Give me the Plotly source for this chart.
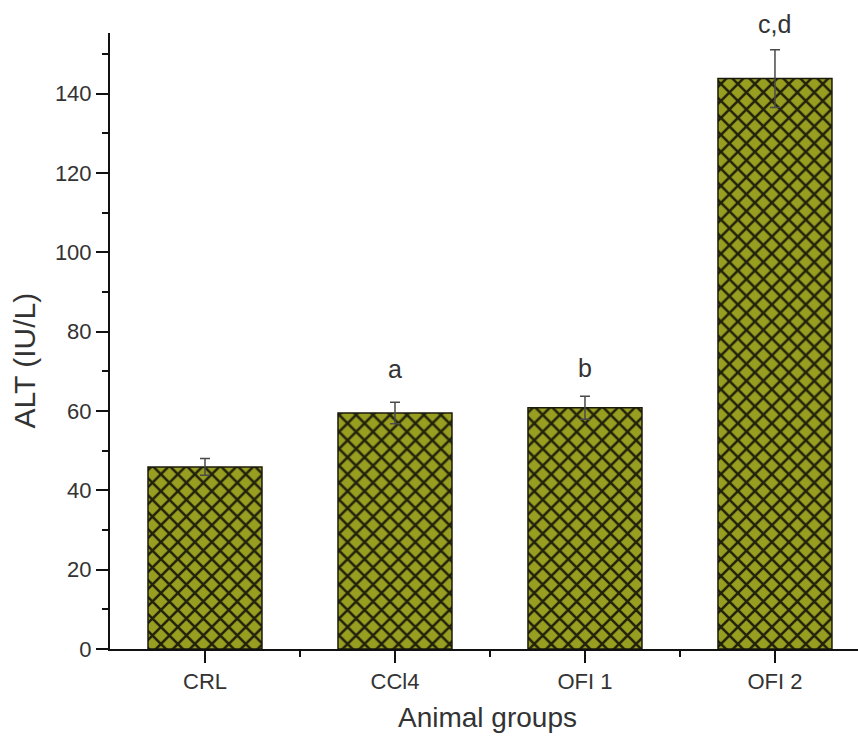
import plotly.graph_objects as go

# ALT activity by animal group
groups = ["CRL", "CCl4", "OFI 1", "OFI 2"]
alt_mean = [45.9, 59.5, 60.8, 143.8]
alt_err = [2.1, 2.7, 2.9, 7.3]
sig_labels = ["", "a", "b", "c,d"]
label_shift = [0, 22, 17, 15]

y_ticks = [0, 20, 40, 60, 80, 100, 120, 140]

xpos = list(range(len(groups)))

FONT = "Liberation Sans, Arial, sans-serif"

fig = go.Figure()
fig.add_trace(go.Bar(
    x=xpos,
    y=alt_mean,
    width=0.6,
    marker=dict(
        color="#989e20",
        line=dict(color="#1a1a0a", width=1.5),
        pattern=dict(shape="x", size=12, solidity=0.38,
                     fgcolor="#22220b", bgcolor="#989e20", fillmode="replace"),
    ),
    error_y=dict(type="data", array=alt_err, visible=True,
                 color="#4a4a4a", thickness=1.5, width=5),
    showlegend=False,
))

for x, m, e, lab, sh in zip(xpos, alt_mean, alt_err, sig_labels, label_shift):
    if lab:
        fig.add_annotation(x=x, y=m + e, text=lab, showarrow=False,
                           yanchor="bottom", yshift=sh - 5,
                           font=dict(size=25, color="#333333", family=FONT))

# axis titles
fig.add_annotation(xref="paper", yref="paper", x=0.505, y=-0.112,
                   text="Animal groups", showarrow=False,
                   xanchor="center", yanchor="middle",
                   font=dict(size=28, color="#333333", family=FONT))
fig.add_annotation(xref="paper", yref="paper", x=-0.114, y=0.468,
                   text="ALT (IU/L)", showarrow=False, textangle=-90,
                   xanchor="center", yanchor="middle",
                   font=dict(size=30, color="#333333", family=FONT))

fig.update_layout(
    width=858, height=737,
    margin=dict(l=110, r=0, t=33, b=88),
    plot_bgcolor="white", paper_bgcolor="white",
    font=dict(family=FONT, color="#333333", size=22),
    xaxis=dict(
        range=[-0.5, 3.437],
        tickmode="array", tickvals=xpos, ticktext=groups,
        showline=True, linecolor="#111111", linewidth=2,
        ticks="outside", ticklen=12, tickwidth=2, tickcolor="#111111",
        minor=dict(tickmode="array", tickvals=[0.5, 1.5, 2.5],
                   ticks="outside", ticklen=6, tickwidth=2, tickcolor="#111111"),
        showgrid=False, zeroline=False,
        tickfont=dict(size=22, color="#333333"),
    ),
    yaxis=dict(
        range=[0, 155.3],
        tickmode="array", tickvals=y_ticks,
        showline=True, linecolor="#111111", linewidth=2,
        ticks="outside", ticklen=12, tickwidth=2, tickcolor="#111111",
        minor=dict(tickmode="linear", tick0=10, dtick=20,
                   ticks="outside", ticklen=6, tickwidth=2, tickcolor="#111111"),
        showgrid=False, zeroline=False,
        tickfont=dict(size=22, color="#333333"),
    ),
)

fig.write_html("out.html")
